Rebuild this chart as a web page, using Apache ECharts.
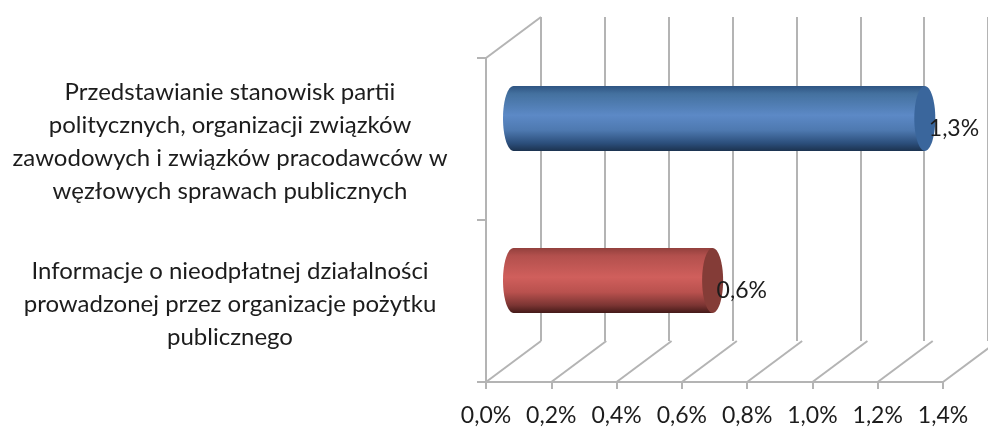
<!DOCTYPE html>
<html><head><meta charset="utf-8">
<style>html,body{margin:0;padding:0;background:#fff}#c{width:988px;height:428px}</style>
<script src="https://cdn.jsdelivr.net/npm/echarts@6/dist/echarts.min.js"></script>
</head><body><div id="c"></div>
<script>
const categories = [
  'Przedstawianie stanowisk partii\npolitycznych, organizacji związków\nzawodowych i związków pracodawców w\nwęzłowych sprawach publicznych',
  'Informacje o nieodpłatnej działalności\nprowadzonej przez organizacje pożytku\npublicznego'
];
const values = [1.26, 0.61];
const xTicks = [0, 0.2, 0.4, 0.6, 0.8, 1.0, 1.2, 1.4];
const topEdgeTicks = [0];

const pct = (v, d) => v.toFixed(d).replace('.', ',') + '%';
const AXIS = '#b4b4b4', TEXT = '#1c1c1c', FONT = 'Lato', LW = 2;
const DX = 55, DY = -41;           // oblique depth of the 3D box
const looks = [
  {stops: ['#2f5583', '#44719f', '#5c89c6', '#4e79b0', '#2c4f7c', '#1c3350'], cap: '#3a669c'},
  {stops: ['#93403d', '#b3504d', '#d05f5c', '#b9514e', '#7c3533', '#451a19'], cap: '#843c37'}
];

function cylinder(params, api) {
  const look = looks[params.dataIndex];
  const i = api.value(1);
  const end = api.coord([api.value(0), i]);
  const start = api.coord([0, i]);
  const band = api.size([0, 1])[1];
  const ry = band * 0.2;
  const rx = 10.5;
  const x0 = start[0] + DX / 2, x1 = end[0] + DX / 2, cy = start[1] + DY / 2;
  const grad = {
    type: 'linear', x: 0, y: 0, x2: 0, y2: 1,
    colorStops: look.stops.map((c, k) => ({offset: [0, .12, .45, .68, .88, 1][k], color: c}))
  };
  return {
    type: 'group',
    children: [
      {type: 'ellipse', shape: {cx: x0, cy, rx, ry}, style: {fill: grad}},
      {type: 'rect', shape: {x: x0, y: cy - ry, width: x1 - x0, height: ry * 2}, style: {fill: grad}},
      {type: 'ellipse', shape: {cx: x1, cy, rx, ry}, style: {fill: look.cap}},
      {type: 'text', z2: 10, style: {
        text: pct(api.value(0), 1), x: x1 + 4, y: cy + 10,
        verticalAlign: 'middle', align: 'left',
        font: '23px ' + FONT, fill: TEXT
      }}
    ]
  };
}

function diagonal(atTop) {
  return function (params, api) {
    const x = api.coord([api.value(0), 0])[0];
    const cs = params.coordSys;
    const y = atTop ? cs.y : cs.y + cs.height;
    return {
      type: 'line',
      shape: {x1: x, y1: y, x2: x + DX, y2: y + DY},
      style: {stroke: AXIS, lineWidth: LW}
    };
  };
}

const chart = echarts.init(document.getElementById('c'), null, {renderer: 'canvas'});
chart.setOption({
  animation: false,
  backgroundColor: '#ffffff',
  grid: [
    {left: 486, top: 58, width: 457, height: 324},
    {left: 541, top: 17, width: 460, height: 324},
    {left: 486, top: 61, width: 457, height: 324}
  ],
  xAxis: [
    {
      type: 'value', gridIndex: 0, min: 0, max: 1.4, interval: 0.2,
      axisLine: {show: true, lineStyle: {color: AXIS, width: LW}},
      axisTick: {show: true, length: 7, lineStyle: {color: AXIS, width: LW}},
      splitLine: {show: false},
      axisLabel: {
        formatter: v => pct(v, 1), color: TEXT, fontFamily: FONT, fontSize: 23, margin: 22,
        hideOverlap: false, showMinLabel: true, showMaxLabel: true
      }
    },
    {
      type: 'value', gridIndex: 1, min: 0, max: 1.4, interval: 0.2,
      axisLine: {show: false}, axisTick: {show: false}, axisLabel: {show: false},
      splitLine: {show: true, lineStyle: {color: AXIS, width: LW}}
    },
    {type: 'value', gridIndex: 2, min: 0, max: 1.4, show: false}
  ],
  yAxis: [
    {
      type: 'category', gridIndex: 0, inverse: true, data: categories,
      axisLine: {show: true, lineStyle: {color: AXIS, width: LW}},
      axisTick: {show: true, length: 9, alignWithLabel: false, lineStyle: {color: AXIS, width: LW}},
      axisLabel: {show: false}
    },
    {type: 'value', gridIndex: 1, show: false},
    {
      type: 'category', gridIndex: 2, inverse: true, data: categories,
      axisLine: {show: false}, axisTick: {show: false}, splitLine: {show: false},
      axisLabel: {
        color: TEXT, fontFamily: FONT, fontSize: 24, lineHeight: 33,
        align: 'center', margin: 256, interval: 0
      }
    }
  ],
  series: [
    {
      type: 'custom', coordinateSystem: 'cartesian2d', xAxisIndex: 0, yAxisIndex: 0,
      clip: false, silent: true, encode: {x: 0}, renderItem: diagonal(false),
      data: xTicks.map(v => [v])
    },
    {
      type: 'custom', coordinateSystem: 'cartesian2d', xAxisIndex: 0, yAxisIndex: 0,
      clip: false, silent: true, encode: {x: 0}, renderItem: diagonal(true),
      data: topEdgeTicks.map(v => [v])
    },
    {
      type: 'custom', coordinateSystem: 'cartesian2d', xAxisIndex: 0, yAxisIndex: 0,
      clip: false, silent: true, encode: {x: 0, y: 1}, renderItem: cylinder,
      data: values.map((v, i) => [v, i])
    }
  ]
});
</script></body></html>
